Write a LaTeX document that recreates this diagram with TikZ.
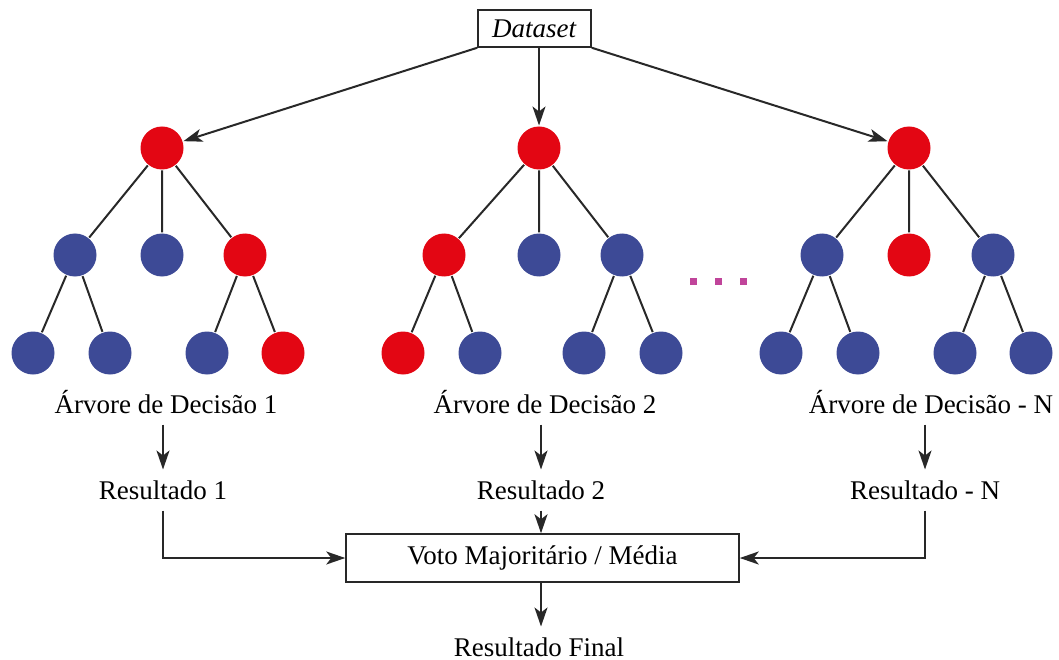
\documentclass[tikz,border=0pt]{standalone}
\usepackage{fontspec}
\setmainfont{Liberation Serif}
\usetikzlibrary{arrows.meta}
\definecolor{nodered}{RGB}{227,6,19}
\definecolor{nodeblue}{RGB}{61,74,150}
\definecolor{dotpink}{RGB}{192,68,154}
\definecolor{linegray}{RGB}{40,40,40}
\tikzset{
  leaf/.style={circle, inner sep=0pt, minimum size=43pt},
  rn/.style={leaf, fill=nodered},
  bn/.style={leaf, fill=nodeblue},
  lbl/.style={inner sep=10pt},
}
\begin{document}
\begin{tikzpicture}[x=1pt, y=-1pt, >={Stealth[length=19pt,width=13pt,inset=5pt]},
  line width=2pt, draw=linegray, font=\fontsize{27}{32}\selectfont]
\useasboundingbox (0,0) rectangle (1059,660);
\node[draw, line width=1.5pt, inner sep=0pt, minimum width=113pt, minimum height=37pt] (data) at (534.5,28.5){\textit{Dataset}};
% arvore 1
\node[rn] (r1) at (162,148){};
\node[bn] (a1) at (75,255){};
\node[bn] (b1) at (162,255){};
\node[rn] (c1) at (245,255){};
\node[bn] (aa1) at (33,353){};
\node[bn] (ab1) at (110,353){};
\node[bn] (ca1) at (207,353){};
\node[rn] (cb1) at (283,353){};
% arvore 2
\node[rn] (r2) at (539,148){};
\node[rn] (a2) at (444,255){};
\node[bn] (b2) at (539,255){};
\node[bn] (c2) at (622,255){};
\node[rn] (aa2) at (403,353){};
\node[bn] (ab2) at (480,353){};
\node[bn] (ca2) at (584,353){};
\node[bn] (cb2) at (661,353){};
% arvore N
\node[rn] (r3) at (909,148){};
\node[bn] (a3) at (822,255){};
\node[rn] (b3) at (909,255){};
\node[bn] (c3) at (993,255){};
\node[bn] (aa3) at (781,353){};
\node[bn] (ab3) at (858,353){};
\node[bn] (ca3) at (955,353){};
\node[bn] (cb3) at (1031,353){};
\foreach \t in {1,2,3}
{
    \draw[linegray] (r\t)--(a\t) (r\t)--(b\t) (r\t)--(c\t);
    \draw[linegray] (a\t)--(aa\t) (a\t)--(ab\t) (c\t)--(ca\t) (c\t)--(cb\t);
}
\foreach \x in {693,718,743}
{
    \fill[dotpink] (\x-3.5,277.5) rectangle (\x+3.5,284.5);
}
\draw[->, linegray] (data.south west)--(r1);
\draw[->, linegray] (data.south -| r2)--(r2);
\draw[->, linegray] (data.south east)--(r3);
\node[lbl] (l1) at (166,402){Árvore de Decisão 1};
\node[lbl] (l2) at (545,402){Árvore de Decisão 2};
\node[lbl] (l3) at (931,402){Árvore de Decisão - N};
\node[lbl] (res1) at (163,490){Resultado 1};
\node[lbl] (res2) at (541,490){Resultado 2};
\node[lbl] (res3) at (925,490){Resultado - N};
\node[draw, line width=1.5pt, inner sep=0pt, minimum width=393pt, minimum height=48pt] (vote) at (542.5,558){Voto Majoritário / Média};
\node[lbl] (final) at (539,647){Resultado Final};
\draw[->, linegray] (l1.south -| res1)--(res1);
\draw[->, linegray] (l2.south -| res2)--(res2);
\draw[->, linegray] (l3.south -| res3)--(res3);
\draw[->, linegray] (res1)|-(vote);
\draw[->, linegray] (res2.south)--(res2.south |- vote.north);
\draw[->, linegray] (res3)|-(vote);
\draw[->, linegray] (vote.south -| res2)--(final.north -| res2);
\end{tikzpicture}
\end{document}
